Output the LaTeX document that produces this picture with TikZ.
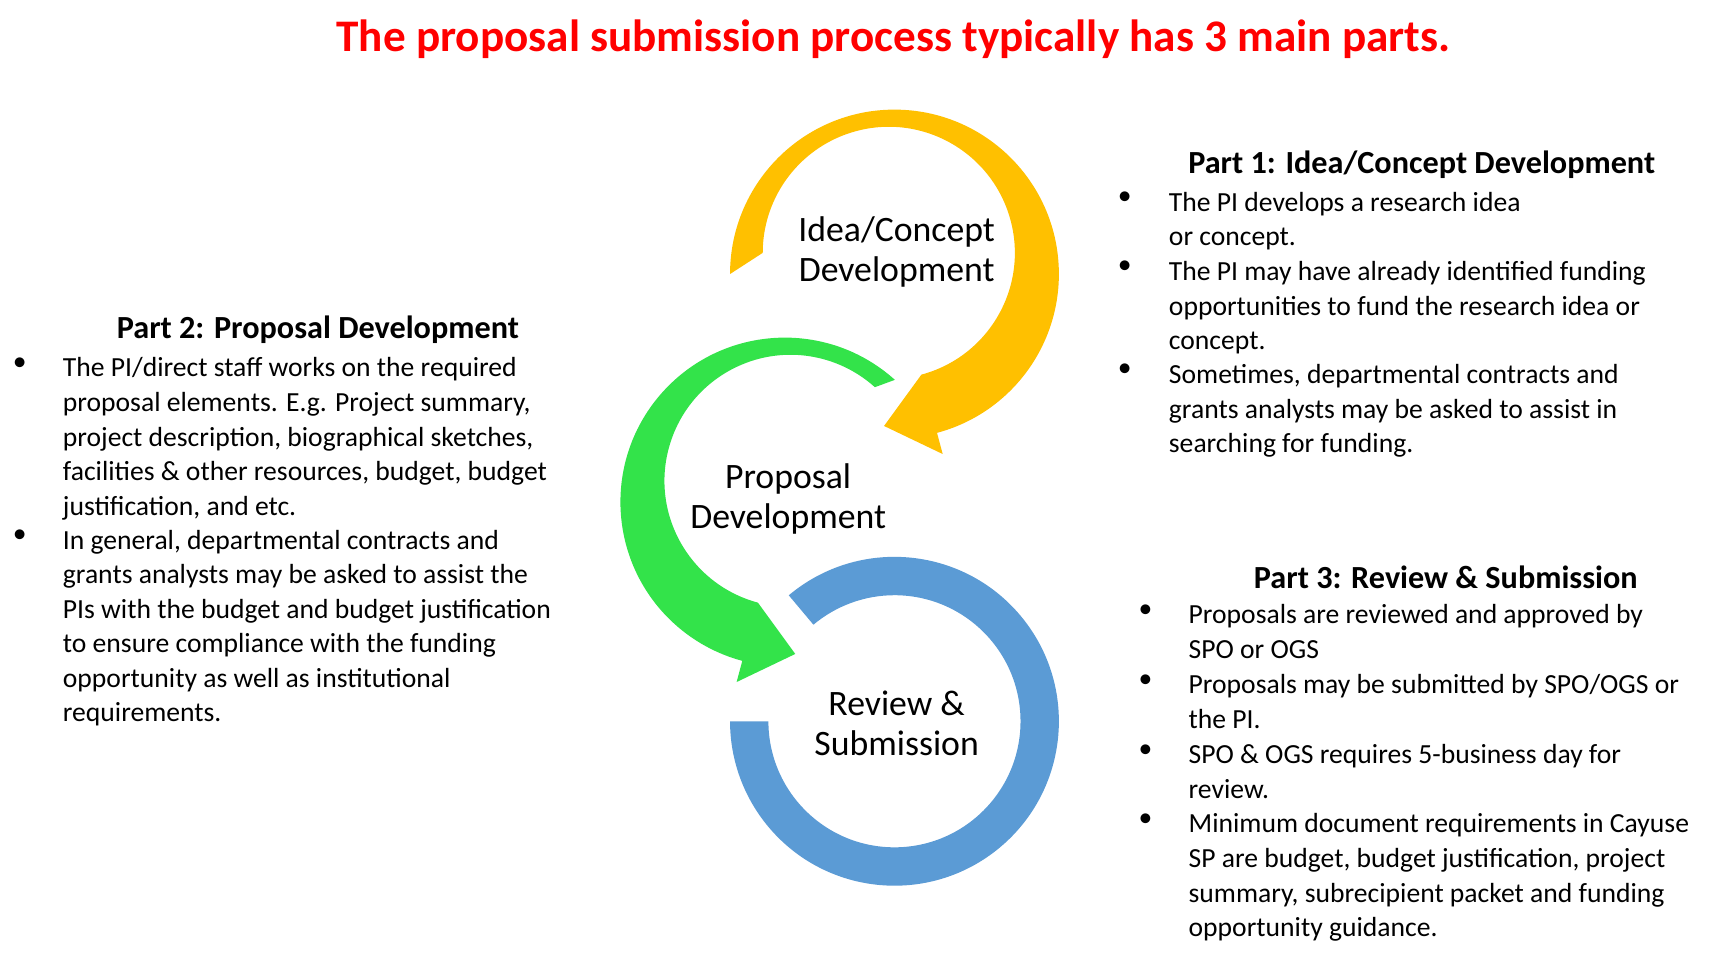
\documentclass[tikz,border=0pt]{standalone}
\usepackage{fontspec}
\setmainfont{Carlito}
\definecolor{yel}{HTML}{FFC000}
\definecolor{grn}{HTML}{33E34A}
\definecolor{blu}{HTML}{5B9BD5}
\begin{document}
\begin{tikzpicture}[x=0.5pt,y=0.5pt,
  body/.style={anchor=north west,inner sep=0pt,align=left,font=\fontsize{12.6}{15.75}\selectfont},
  bul/.style={anchor=north,inner sep=0pt,font=\fontsize{12.6}{15.75}\selectfont},
  head/.style={inner sep=0pt,font=\fontsize{14.7}{17}\selectfont\bfseries},
  lab/.style={inner sep=0pt,align=center,font=\fontsize{16.3}{18}\selectfont}]
\useasboundingbox[fill=white] (0,0) rectangle (1560,-871);
\node[inner sep=0pt,text=red,font=\fontsize{20.6}{22}\selectfont\bfseries] (title) at (815,-36) {The proposal submission process typically has 3 main parts.};
% rings
\begin{scope}[shift={(816,-250)}]
\fill[yel] (180:150) arc[start angle=180,end angle=-75,radius=150] -- (-75:170) -- (-9.5,-138.6) -- (-75:95) arc[start angle=-75,end angle=180,radius=115] -- cycle;
\end{scope}
\begin{scope}[shift={(716,-458)}]
\fill[grn] (48:150) arc[start angle=48,end angle=255,radius=150] -- (255:170) -- (9.5,-138.6) -- (255:95) arc[start angle=255,end angle=48,radius=115] -- cycle;
\end{scope}
\begin{scope}[shift={(816,-658)}]
\fill[blu] (130:150) arc[start angle=130,end angle=-180,radius=150] -- (180:115) arc[start angle=-180,end angle=130,radius=115] -- cycle;
\end{scope}
\node[lab] (l1) at (818,-230) {Idea/Concept\\Development};
\node[lab] (l2) at (719,-455) {Proposal\\Development};
\node[lab] (l3) at (818,-660) {Review \&\\Submission};
% Part 1
\node[head] (h1) at (1297,-150) {Part 1: Idea/Concept Development};
\node[bul] (b11) at (1026,-175) {•};
\node[body] (t11) at (1066,-175) {The PI develops a research idea\\or concept.};
\node[bul] (b12) at (1026,-238) {•};
\node[body] (t12) at (1066,-238) {The PI may have already identified funding\\opportunities to fund the research idea or\\concept.};
\node[bul] (b13) at (1026,-332) {•};
\node[body] (t13) at (1066,-332) {Sometimes, departmental contracts and\\grants analysts may be asked to assist in\\searching for funding.};
% Part 2
\node[head] (h2) at (290,-301) {Part 2: Proposal Development};
\node[bul] (b21) at (18,-326) {•};
\node[body] (t21) at (57,-326) {The PI/direct staff works on the required\\proposal elements. E.g. Project summary,\\project description, biographical sketches,\\facilities \& other resources, budget, budget\\justification, and etc.};
\node[bul] (b22) at (18,-483) {•};
\node[body] (t22) at (57,-483) {In general, departmental contracts and\\grants analysts may be asked to assist the\\PIs with the budget and budget justification\\to ensure compliance with the funding\\opportunity as well as institutional\\requirements.};
% Part 3
\node[head] (h3) at (1319,-527) {Part 3: Review \& Submission};
\node[bul] (b31) at (1045,-551) {•};
\node[body] (t31) at (1084,-551) {Proposals are reviewed and approved by\\SPO or OGS};
\node[bul] (b32) at (1045,-615) {•};
\node[body] (t32) at (1084,-615) {Proposals may be submitted by SPO/OGS or\\the PI.};
\node[bul] (b33) at (1045,-679) {•};
\node[body] (t33) at (1084,-679) {SPO \& OGS requires 5-business day for\\review.};
\node[bul] (b34) at (1045,-742) {•};
\node[body] (t34) at (1084,-742) {Minimum document requirements in Cayuse\\SP are budget, budget justification, project\\summary, subrecipient packet and funding\\opportunity guidance.};
\end{tikzpicture}
\end{document}
